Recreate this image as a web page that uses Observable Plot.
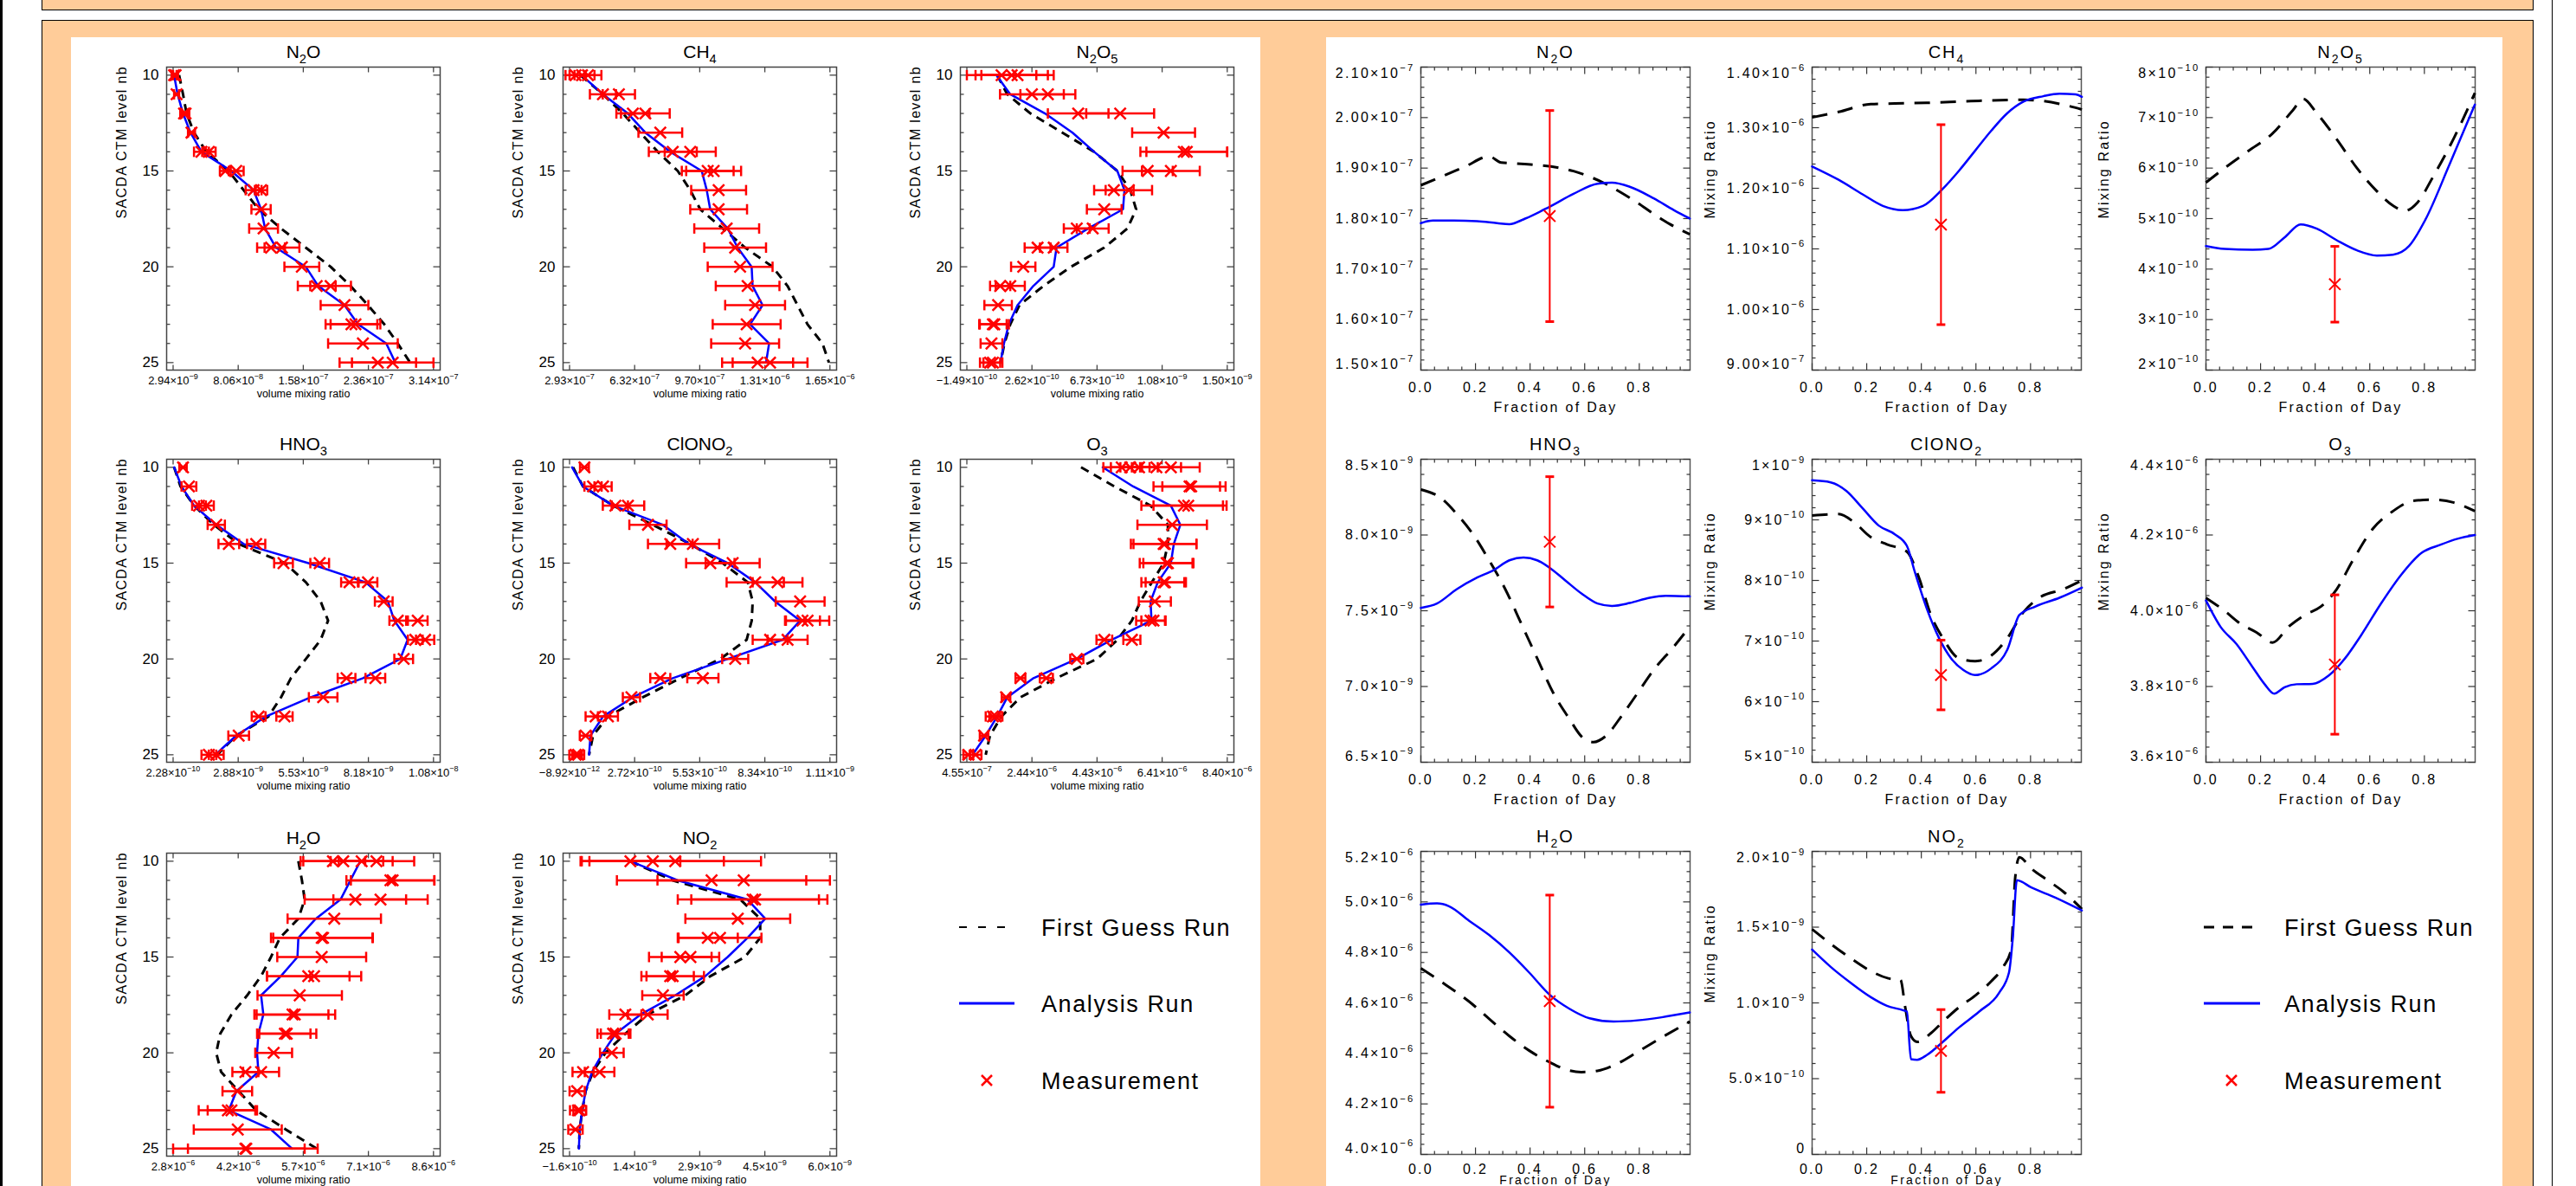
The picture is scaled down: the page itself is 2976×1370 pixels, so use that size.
<!DOCTYPE html>
<html><head><meta charset="utf-8">
<script src="https://cdn.jsdelivr.net/npm/d3@7"></script>
<script src="https://cdn.jsdelivr.net/npm/@observablehq/plot@0.6"></script>
<style>
html,body{margin:0;padding:0;background:#fff;}
#root{position:relative;width:2976px;height:1370px;overflow:hidden;background:#fff;font-family:"Liberation Sans",Arial,Helvetica,sans-serif;}
.abs{position:absolute;}
g[aria-description="ytl"] text,g[aria-description="xtl"] text,g[aria-description="xlab"] text{letter-spacing:2.3px;}
g[aria-description="rtitle"] text{letter-spacing:2px;}
g[aria-description="ylab"] text{letter-spacing:2.2px;}
g[aria-description="ylabel"] text{letter-spacing:1.3px;}
.legend text{font-family:"Liberation Sans",Arial,sans-serif;font-size:27px;letter-spacing:1.6px;fill:#000;}
</style></head>
<body><div id="root"></div>
<script>
// ---------------- LEFT: vertical profiles (SACDA CTM levels 10..25) ----------------
const levels = [10,11,12,13,14,15,16,17,18,19,20,21,22,23,24,25];

// N2O profile, values x1e-9
const n2oProfRange = [2.94, 314];
const n2oProfTickLabels = ["2.94×10^{-9}","8.06×10^{-8}","1.58×10^{-7}","2.36×10^{-7}","3.14×10^{-7}"];
const n2oProfFirstGuess = [10.1,14.8,19.0,27.9,42.7,69.4,87.2,105.0,131.8,161.4,191.1,214.9,235.6,255.2,271.3,286.1];
const n2oProfAnalysis = [4.1,8.3,14.8,23.7,36.8,72.4,99.1,108.0,112.8,125.8,161.4,176.3,207.7,223.8,257.6,268.4];
const n2oProfMeas = [[10,4.1,3.0],[10,5.9,3.0],[11,7.1,3.0],[12,16.0,4.5],[12,17.8,4.5],[13,24.9,4.2],[14,36.8,8.9],[14,45.7,8.0],[15,65.3,6.5],[15,78.3,8.9],[16,99.1,9.5],[16,108.0,7.4],[17,108.0,11.5],[18,111.0,17.2],[19,119.9,16.6],[19,133.0,20.8],[20,156.7,20.8],[21,174.5,22.6],[21,191.1,24.3],[22,207.7,28.5],[23,216.0,30.9],[23,220.8,29.7],[24,229.7,41.6],[25,247.5,45.7],[25,265.3,48.7]];

// CH4 profile, values x1e-7
const ch4ProfRange = [2.93, 16.5];
const ch4ProfTickLabels = ["2.93×10^{-7}","6.32×10^{-7}","9.70×10^{-7}","1.31×10^{-6}","1.65×10^{-6}"];
const ch4ProfFirstGuess = [3.50,4.67,5.71,6.62,7.53,8.57,9.22,9.74,10.91,12.08,13.51,14.29,14.81,15.33,16.11,16.45];
const ch4ProfAnalysis = [3.55,4.67,5.97,6.88,8.18,9.82,10.08,10.26,11.17,11.69,12.42,12.47,12.99,12.34,13.33,13.17];
const ch4ProfMeas = [[10,3.24,0.52],[10,3.58,0.65],[10,3.89,0.70],[11,4.67,0.68],[11,5.50,0.84],[12,6.23,0.86],[12,6.88,1.27],[13,7.66,1.14],[14,8.31,1.25],[14,9.22,1.33],[15,10.13,1.35],[15,10.44,1.43],[16,10.70,1.43],[17,10.70,1.48],[18,11.12,1.69],[19,11.56,1.61],[20,11.82,1.69],[21,12.21,1.66],[22,12.60,1.56],[23,12.16,1.77],[24,12.08,1.77],[25,12.73,1.85],[25,13.38,1.95]];

// N2O5 profile, values x1e-10
const n2o5ProfRange = [-1.49, 15.0];
const n2o5ProfTickLabels = ["−1.49×10^{-10}","2.62×10^{-10}","6.73×10^{-10}","1.08×10^{-9}","1.50×10^{-9}"];
const n2o5ProfFirstGuess = [0.43,1.07,2.54,4.56,6.57,8.04,8.86,9.23,8.68,7.21,5.11,3.36,1.84,1.26,0.89,0.64];
const n2o5ProfAnalysis = [0.38,1.26,3.46,5.20,6.57,8.04,8.49,8.40,6.20,4.19,4.01,2.72,1.72,1.17,0.86,0.64];
const n2o5ProfMeas = [[10,0.71,2.20],[10,1.35,2.29],[10,1.72,2.29],[11,2.63,2.02],[11,3.64,1.74],[12,5.56,1.92],[12,8.22,2.15],[13,10.97,1.99],[14,12.25,2.75],[14,12.44,2.56],[15,9.96,1.59],[15,11.43,1.83],[16,7.82,1.25],[16,8.77,1.47],[17,7.21,1.10],[18,5.47,0.82],[18,6.48,1.01],[19,2.99,0.82],[19,4.01,0.87],[20,2.08,0.77],[21,0.62,0.64],[21,1.26,0.92],[22,0.49,0.87],[23,0.16,0.87],[23,0.25,0.92],[24,0.07,0.69],[25,-0.02,0.64],[25,0.16,0.60]];

// HNO3 profile, values x1e-9
const hno3ProfRange = [0.228, 10.8];
const hno3ProfTickLabels = ["2.28×10^{-10}","2.88×10^{-9}","5.53×10^{-9}","8.18×10^{-9}","1.08×10^{-8}"];
const hno3ProfFirstGuess = [0.27,0.53,1.08,1.88,2.89,4.77,5.62,6.22,6.52,6.22,5.62,5.01,4.61,4.10,2.79,2.02];
const hno3ProfAnalysis = [0.27,0.57,1.08,1.98,3.09,5.72,8.04,8.95,9.21,9.75,9.45,7.94,5.82,4.00,2.79,1.94];
const hno3ProfMeas = [[10,0.63,0.15],[11,0.87,0.30],[12,1.28,0.28],[12,1.58,0.30],[13,1.98,0.35],[14,2.49,0.42],[14,3.60,0.37],[15,4.71,0.38],[15,6.18,0.38],[16,7.39,0.34],[16,8.14,0.38],[17,8.78,0.36],[18,9.35,0.34],[18,10.16,0.40],[19,10.06,0.30],[19,10.46,0.37],[20,9.59,0.38],[21,7.27,0.36],[21,8.44,0.40],[22,6.32,0.58],[23,3.70,0.28],[23,4.75,0.33],[24,2.89,0.42],[25,1.68,0.30],[25,1.98,0.30]];

// ClONO2 profile, values x1e-10
const clono2ProfRange = [-0.0892, 11.1];
const clono2ProfTickLabels = ["−8.92×10^{-12}","2.72×10^{-10}","5.53×10^{-10}","8.34×10^{-10}","1.11×10^{-9}"];
const clono2ProfFirstGuess = [0.06,0.49,1.78,3.49,5.10,6.49,7.57,7.78,7.74,7.52,6.39,4.67,3.06,1.56,0.92,0.75];
const clono2ProfAnalysis = [0.02,0.49,1.78,3.92,5.03,6.71,7.89,8.74,9.82,9.07,6.71,4.35,2.63,1.35,0.81,0.75];
const clono2ProfMeas = [[10,0.55,0.19],[11,0.92,0.37],[11,1.35,0.37],[12,1.88,0.54],[12,2.42,0.70],[13,3.28,0.80],[14,4.24,0.96],[14,5.21,1.13],[15,5.96,1.04],[15,6.92,1.16],[16,7.89,1.23],[16,8.85,1.07],[17,9.82,1.05],[18,9.92,0.75],[18,10.14,0.93],[19,8.53,0.75],[19,9.28,0.86],[20,7.03,0.56],[21,3.81,0.43],[21,5.64,0.67],[22,2.57,0.37],[23,1.03,0.43],[23,1.56,0.43],[24,0.60,0.25],[25,0.17,0.27],[25,0.28,0.26]];

// O3 profile, values x1e-7
const o3ProfRange = [4.55, 84.0];
const o3ProfTickLabels = ["4.55×10^{-7}","2.44×10^{-6}","4.43×10^{-6}","6.41×10^{-6}","8.40×10^{-6}"];
const o3ProfFirstGuess = [39.4,49.6,60.6,65.9,65.9,64.6,61.0,57.5,54.9,50.5,44.3,31.9,20.9,15.1,11.6,10.3];
const o3ProfAnalysis = [46.0,55.3,66.8,69.7,67.7,66.8,62.8,60.6,60.9,48.7,38.1,24.9,16.9,13.8,10.3,6.3];
const o3ProfMeas = [[10,51.8,5.6],[10,54.4,5.9],[10,57.1,5.7],[10,62.4,7.5],[10,66.8,8.8],[11,72.5,11.0],[11,73.0,8.8],[12,70.8,13.0],[12,72.1,10.6],[13,67.2,10.6],[14,64.6,10.0],[14,65.0,9.6],[15,65.5,8.2],[15,65.9,7.5],[16,64.6,6.8],[16,65.0,5.9],[17,61.9,4.9],[18,60.6,4.4],[18,61.5,3.7],[19,46.5,2.4],[19,54.9,2.6],[20,38.1,2.0],[21,20.9,1.5],[21,28.8,2.0],[22,16.5,1.3],[23,12.5,2.2],[23,13.4,2.0],[24,9.8,1.3],[25,5.0,1.5],[25,7.2,1.8]];

// H2O profile, values x1e-6
const h2oProfRange = [2.8, 8.6];
const h2oProfTickLabels = ["2.8×10^{-6}","4.2×10^{-6}","5.7×10^{-6}","7.1×10^{-6}","8.6×10^{-6}"];
const h2oProfFirstGuess = [5.59,5.67,5.73,5.59,5.18,4.98,4.76,4.45,4.10,3.85,3.76,3.87,4.26,4.65,5.31,6.00];
const h2oProfAnalysis = [6.97,6.75,6.53,5.98,5.59,5.57,5.20,4.76,4.81,4.70,4.67,4.70,4.21,4.04,4.98,5.45];
const h2oProfMeas = [[10,6.36,0.72],[10,6.59,0.89],[10,7.00,0.69],[10,7.33,0.84],[11,7.64,0.98],[11,7.69,0.93],[12,6.86,1.13],[12,7.42,1.05],[13,6.39,1.04],[14,6.11,1.13],[14,6.14,1.11],[15,6.11,0.99],[16,5.81,0.92],[16,5.94,1.05],[17,5.62,0.94],[18,5.46,0.80],[18,5.51,0.90],[19,5.29,0.57],[19,5.33,0.66],[20,5.04,0.41],[21,4.41,0.29],[21,4.76,0.40],[22,4.23,0.33],[23,4.02,0.65],[23,4.10,0.53],[24,4.24,0.98],[25,4.41,1.61],[25,4.43,1.30]];

// NO2 profile, values x1e-9
const no2ProfRange = [-0.16, 6.0];
const no2ProfTickLabels = ["−1.6×10^{-10}","1.4×10^{-9}","2.9×10^{-9}","4.5×10^{-9}","6.0×10^{-9}"];
const no2ProfFirstGuess = [1.28,2.28,3.88,4.35,4.35,3.99,3.17,2.58,1.69,1.16,0.69,0.39,0.22,0.14,0.08,0.06];
const no2ProfAnalysis = [1.28,2.40,4.05,4.47,4.05,3.58,3.05,2.34,1.52,0.93,0.63,0.37,0.22,0.14,0.08,0.06];
const no2ProfMeas = [[10,1.28,1.18],[10,1.81,1.68],[10,2.34,2.03],[11,3.20,2.24],[11,3.96,2.04],[12,4.17,1.77],[12,4.23,1.51],[13,3.82,1.24],[14,3.11,0.71],[14,3.40,0.98],[15,2.46,0.74],[15,2.70,0.68],[16,2.22,0.56],[16,2.28,0.74],[17,2.05,0.49],[18,1.16,0.38],[18,1.69,0.47],[19,0.87,0.37],[19,0.93,0.35],[20,0.84,0.28],[21,0.16,0.25],[21,0.55,0.35],[22,0.02,0.18],[23,0.04,0.19],[23,0.08,0.15],[24,-0.02,0.17]];

// ---------------- RIGHT: diurnal cycle at the measurement level ----------------
// [fraction of day, mixing ratio]; measurement = [fraction, value, error]
const n2oDayYTicks = [1.5,1.6,1.7,1.8,1.9,2.0,2.1]; // x1e-7
const n2oDayYLabels = ["1.50×10^{-7}","1.60×10^{-7}","1.70×10^{-7}","1.80×10^{-7}","1.90×10^{-7}","2.00×10^{-7}","2.10×10^{-7}"];
const n2oDayFirstGuess = [[0,1.866],[0.088,1.886],[0.162,1.903],[0.25,1.923],[0.294,1.911],[0.353,1.909],[0.426,1.906],[0.5,1.901],[0.559,1.894],[0.618,1.883],[0.676,1.869],[0.735,1.851],[0.794,1.831],[0.853,1.809],[0.912,1.789],[0.985,1.769]];
const n2oDayAnalysis = [[0,1.791],[0.044,1.796],[0.12,1.796],[0.206,1.795],[0.279,1.791],[0.324,1.789],[0.382,1.800],[0.47,1.823],[0.559,1.849],[0.647,1.869],[0.7,1.871],[0.765,1.863],[0.853,1.840],[0.926,1.817],[0.985,1.800]];
const n2oDayMeas = [0.472, 1.805, 0.209];

const ch4DayYTicks = [0.9,1.0,1.1,1.2,1.3,1.4]; // x1e-6
const ch4DayYLabels = ["9.00×10^{-7}","1.00×10^{-6}","1.10×10^{-6}","1.20×10^{-6}","1.30×10^{-6}","1.40×10^{-6}"];
const ch4DayFirstGuess = [[0,1.317],[0.097,1.326],[0.215,1.339],[0.303,1.340],[0.42,1.341],[0.538,1.343],[0.656,1.345],[0.774,1.346],[0.847,1.344],[0.92,1.338],[0.988,1.330]];
const ch4DayAnalysis = [[0,1.236],[0.097,1.214],[0.185,1.190],[0.259,1.171],[0.332,1.164],[0.406,1.171],[0.476,1.198],[0.538,1.229],[0.597,1.262],[0.656,1.295],[0.715,1.324],[0.774,1.343],[0.847,1.352],[0.906,1.356],[0.965,1.355],[0.988,1.351]];
const ch4DayMeas = [0.472, 1.14, 0.165];

const n2o5DayYTicks = [2,3,4,5,6,7,8]; // x1e-10
const n2o5DayYLabels = ["2×10^{-10}","3×10^{-10}","4×10^{-10}","5×10^{-10}","6×10^{-10}","7×10^{-10}","8×10^{-10}"];
const n2o5DayFirstGuess = [[0,5.714],[0.068,6.0],[0.156,6.343],[0.244,6.686],[0.318,7.143],[0.356,7.371],[0.406,7.086],[0.479,6.571],[0.553,6.0],[0.626,5.543],[0.685,5.257],[0.729,5.154],[0.774,5.314],[0.832,5.829],[0.906,6.571],[0.985,7.486]];
const n2o5DayAnalysis = [[0,4.457],[0.068,4.40],[0.171,4.383],[0.229,4.40],[0.288,4.629],[0.347,4.886],[0.406,4.80],[0.479,4.571],[0.553,4.371],[0.626,4.269],[0.685,4.286],[0.744,4.457],[0.803,4.971],[0.891,6.057],[0.985,7.257]];
const n2o5DayMeas = [0.472, 3.70, 0.75];

const hno3DayYTicks = [6.5,7.0,7.5,8.0,8.5]; // x1e-9
const hno3DayYLabels = ["6.5×10^{-9}","7.0×10^{-9}","7.5×10^{-9}","8.0×10^{-9}","8.5×10^{-9}"];
const hno3DayFirstGuess = [[0,8.30],[0.074,8.243],[0.132,8.138],[0.191,8.005],[0.25,7.833],[0.309,7.643],[0.368,7.414],[0.426,7.186],[0.485,6.957],[0.544,6.786],[0.588,6.671],[0.632,6.633],[0.676,6.671],[0.735,6.805],[0.794,6.957],[0.853,7.110],[0.926,7.262],[0.985,7.395]];
const hno3DayAnalysis = [[0,7.519],[0.059,7.548],[0.132,7.643],[0.206,7.719],[0.265,7.767],[0.324,7.833],[0.376,7.852],[0.426,7.833],[0.47,7.786],[0.529,7.700],[0.588,7.614],[0.647,7.548],[0.7,7.532],[0.765,7.551],[0.838,7.586],[0.897,7.599],[0.985,7.595]];
const hno3DayMeas = [0.472, 7.955, 0.43];

const clono2DayYTicks = [5,6,7,8,9,10]; // x1e-10
const clono2DayYLabels = ["5×10^{-10}","6×10^{-10}","7×10^{-10}","8×10^{-10}","9×10^{-10}","1×10^{-9}"];
const clono2DayFirstGuess = [[0,9.071],[0.097,9.095],[0.156,8.952],[0.215,8.714],[0.274,8.595],[0.347,8.476],[0.391,8.048],[0.435,7.429],[0.479,7.048],[0.538,6.714],[0.597,6.667],[0.656,6.762],[0.715,7.048],[0.774,7.476],[0.832,7.714],[0.921,7.857],[0.988,8.0]];
const clono2DayAnalysis = [[0,9.652],[0.068,9.619],[0.126,9.476],[0.185,9.19],[0.244,8.905],[0.303,8.762],[0.347,8.571],[0.376,8.143],[0.421,7.524],[0.465,7.048],[0.509,6.714],[0.553,6.524],[0.597,6.438],[0.656,6.548],[0.715,6.857],[0.759,7.429],[0.818,7.571],[0.906,7.714],[0.988,7.881]];
const clono2DayMeas = [0.472, 6.44, 0.575];

const o3DayYTicks = [3.6,3.8,4.0,4.2,4.4]; // x1e-6
const o3DayYLabels = ["3.6×10^{-6}","3.8×10^{-6}","4.0×10^{-6}","4.2×10^{-6}","4.4×10^{-6}"];
const o3DayFirstGuess = [[0,4.034],[0.068,4.0],[0.126,3.966],[0.185,3.943],[0.244,3.916],[0.303,3.958],[0.362,3.989],[0.421,4.011],[0.479,4.057],[0.538,4.133],[0.612,4.217],[0.685,4.263],[0.759,4.290],[0.832,4.293],[0.906,4.286],[0.985,4.263]];
const o3DayAnalysis = [[0,4.027],[0.053,3.958],[0.112,3.912],[0.171,3.851],[0.215,3.806],[0.25,3.781],[0.288,3.798],[0.332,3.806],[0.391,3.807],[0.45,3.829],[0.509,3.874],[0.568,3.935],[0.641,4.019],[0.715,4.095],[0.788,4.152],[0.862,4.175],[0.921,4.190],[0.985,4.200]];
const o3DayMeas = [0.472, 3.858, 0.184];

const h2oDayYTicks = [4.0,4.2,4.4,4.6,4.8,5.0,5.2]; // x1e-6
const h2oDayYLabels = ["4.0×10^{-6}","4.2×10^{-6}","4.4×10^{-6}","4.6×10^{-6}","4.8×10^{-6}","5.0×10^{-6}","5.2×10^{-6}"];
const h2oDayFirstGuess = [[0,4.737],[0.088,4.674],[0.176,4.606],[0.25,4.537],[0.324,4.469],[0.397,4.411],[0.47,4.366],[0.529,4.337],[0.588,4.326],[0.647,4.331],[0.721,4.360],[0.794,4.406],[0.882,4.463],[0.985,4.526]];
const h2oDayAnalysis = [[0,4.989],[0.059,4.994],[0.103,4.983],[0.176,4.926],[0.25,4.869],[0.324,4.800],[0.397,4.720],[0.47,4.634],[0.544,4.577],[0.618,4.539],[0.706,4.526],[0.794,4.531],[0.882,4.543],[0.985,4.562]];
const h2oDayMeas = [0.472, 4.607, 0.42];

const no2DayYTicks = [0,0.5,1.0,1.5,2.0]; // x1e-9
const no2DayYLabels = ["0","5.0×10^{-10}","1.0×10^{-9}","1.5×10^{-9}","2.0×10^{-9}"];
const no2DayFirstGuess = [[0,1.486],[0.068,1.390],[0.141,1.295],[0.215,1.210],[0.279,1.162],[0.324,1.152],[0.341,0.971],[0.362,0.781],[0.385,0.743],[0.435,0.800],[0.479,0.876],[0.538,0.971],[0.597,1.048],[0.656,1.143],[0.7,1.238],[0.729,1.352],[0.744,1.829],[0.759,1.962],[0.803,1.886],[0.862,1.810],[0.921,1.733],[0.988,1.619]];
const no2DayAnalysis = [[0,1.352],[0.068,1.238],[0.141,1.133],[0.215,1.038],[0.274,0.981],[0.332,0.952],[0.347,0.943],[0.362,0.629],[0.385,0.625],[0.421,0.657],[0.479,0.743],[0.538,0.838],[0.612,0.943],[0.685,1.067],[0.721,1.200],[0.735,1.429],[0.75,1.810],[0.803,1.762],[0.891,1.695],[0.988,1.610]];
const no2DayMeas = [0.472, 0.683, 0.273];

const legendLabels = ["First Guess Run","Analysis Run","Measurement"];

// ---------------- helpers ----------------
const FONT = '"Liberation Sans", Arial, Helvetica, sans-serif';
const RED = "#ff0000", BLUE = "#0000ff";
const seg = (x1,y1,x2,y2) => ({draw(c){c.moveTo(x1,y1);c.lineTo(x2,y2);}});
const vCap = L => seg(0,-L,0,L);
const hCap = L => seg(-L,0,L,0);

function richify(root) {
  const NS = "http://www.w3.org/2000/svg";
  root.querySelectorAll("text").forEach(t => {
    const s = t.textContent;
    if (!/[_^]\{/.test(s)) return;
    const fs = parseFloat(getComputedStyle(t).fontSize) || 12;
    t.textContent = "";
    let offset = 0;
    const re = /([_^])\{([^}]*)\}|([^_^]+)/g;
    let m;
    while ((m = re.exec(s))) {
      const sp = document.createElementNS(NS, "tspan");
      let target;
      if (m[3] !== undefined) { sp.textContent = m[3]; target = 0; }
      else {
        sp.textContent = m[2].replace(/-/g, "\u2212");
        target = m[1] === "_" ? 0.28 * fs : -0.45 * fs;
        sp.setAttribute("font-size", (0.7 * fs).toFixed(1));
      }
      const d = target - offset;
      if (d) sp.setAttribute("dy", d.toFixed(2));
      offset = target;
      t.appendChild(sp);
    }
  });
}

const root = document.getElementById("root");
function box(l, t, w, h, css) {
  const d = document.createElement("div");
  d.className = "abs";
  Object.assign(d.style, {left: l + "px", top: t + "px", width: w + "px", height: h + "px", boxSizing: "border-box"}, css);
  root.appendChild(d);
}
function place(svg, left, top, cls) {
  const div = document.createElement("div");
  div.className = "abs " + cls;
  div.style.left = left + "px";
  div.style.top = top + "px";
  div.appendChild(svg);
  root.appendChild(div);
  richify(div);
}

// background frames
box(0, 0, 3, 1370, {background: "#000"});
box(48, 0, 2879, 12, {background: "#ffcc99", borderLeft: "1px solid #000", borderRight: "1px solid #000", borderBottom: "1px solid #000"});
box(48, 23, 2879, 1400, {background: "#ffcc99", border: "1px solid #000"});
box(82, 43, 1374, 1400, {background: "#fff"});
box(1532, 43, 1359, 1400, {background: "#fff"});
box(2948, 0, 1, 1370, {background: "#000"});

// ---------------- profile plot ----------------
const LW = 316, LH = 350, Lml = 80, Lmr = 14, Lmt = 42, Lmb = 48;
function makeProfile(p) {
  const [t0, t4] = p.range;
  const span = t4 - t0;
  const ticks = d3.range(5).map(i => t0 + i * span / 4);
  const xDom = [t0 - 0.0249 * span, t4 + 0.0256 * span];
  const yDom = [9.58, 25.39];
  const majors = [10, 15, 20, 25];
  const minors = levels.filter(l => !majors.includes(l));
  const ends = p.meas.flatMap(([l, v, e]) => [[l, v - e], [l, v + e]]);
  const tk = {stroke: "#444", fill: "none", strokeWidth: 1.3};
  return Plot.plot({
    width: LW + Lml + Lmr, height: LH + Lmt + Lmb,
    marginLeft: Lml, marginRight: Lmr, marginTop: Lmt, marginBottom: Lmb,
    x: {domain: xDom, axis: null},
    y: {domain: yDom, reverse: true, axis: null},
    style: {background: "transparent", maxWidth: "none", overflow: "visible", fontFamily: FONT, color: "#000"},
    marks: [
      Plot.frame({stroke: "#444", strokeWidth: 1.5}),
      Plot.dot(ticks, {x: d => d, frameAnchor: "bottom", symbol: seg(0,0,0,-6), ...tk}),
      Plot.dot(ticks, {x: d => d, frameAnchor: "top", symbol: seg(0,0,0,6), ...tk}),
      Plot.dot(majors, {y: d => d, frameAnchor: "left", symbol: seg(0,0,8,0), ...tk}),
      Plot.dot(majors, {y: d => d, frameAnchor: "right", symbol: seg(0,0,-8,0), ...tk}),
      Plot.dot(minors, {y: d => d, frameAnchor: "left", symbol: seg(0,0,4,0), ...tk}),
      Plot.dot(minors, {y: d => d, frameAnchor: "right", symbol: seg(0,0,-4,0), ...tk}),
      Plot.line(levels, {x: (d, i) => p.fg[i], y: d => d, stroke: "#000", strokeWidth: 3, strokeDasharray: "10,7", strokeLinecap: "butt"}),
      Plot.line(levels, {x: (d, i) => p.an[i], y: d => d, stroke: BLUE, strokeWidth: 2.5}),
      Plot.ruleY(p.meas, {y: d => d[0], x1: d => d[1] - d[2], x2: d => d[1] + d[2], stroke: RED, strokeWidth: 2.5}),
      Plot.dot(ends, {x: d => d[1], y: d => d[0], symbol: vCap(6), stroke: RED, fill: "none", strokeWidth: 2.5}),
      Plot.dot(p.meas, {x: d => d[1], y: d => d[0], symbol: "times", r: 6, stroke: RED, fill: "none", strokeWidth: 2.5}),
      Plot.text(majors, {y: d => d, frameAnchor: "left", dx: -9, textAnchor: "end", lineAnchor: "middle", fontSize: 17, text: d => String(d)}),
      Plot.text(ticks, {x: d => d, frameAnchor: "bottom", dy: 12, lineAnchor: "middle", fontSize: 13, text: (d, i) => p.labels[i]}),
      Plot.text(["volume mixing ratio"], {frameAnchor: "bottom", dy: 27, lineAnchor: "middle", fontSize: 12.5, text: d => d}),
      Plot.text([p.title], {frameAnchor: "top", dy: -17, lineAnchor: "middle", fontSize: 21, text: d => d}),
      Plot.text(["SACDA CTM level nb"], {frameAnchor: "left", dx: -52, rotate: -90, lineAnchor: "middle", fontSize: 16, text: d => d, ariaDescription: "ylabel"})
    ]
  });
}

const profilePanels = [
  {title: "N_{2}O", range: n2oProfRange, labels: n2oProfTickLabels, fg: n2oProfFirstGuess, an: n2oProfAnalysis, meas: n2oProfMeas},
  {title: "CH_{4}", range: ch4ProfRange, labels: ch4ProfTickLabels, fg: ch4ProfFirstGuess, an: ch4ProfAnalysis, meas: ch4ProfMeas},
  {title: "N_{2}O_{5}", range: n2o5ProfRange, labels: n2o5ProfTickLabels, fg: n2o5ProfFirstGuess, an: n2o5ProfAnalysis, meas: n2o5ProfMeas},
  {title: "HNO_{3}", range: hno3ProfRange, labels: hno3ProfTickLabels, fg: hno3ProfFirstGuess, an: hno3ProfAnalysis, meas: hno3ProfMeas},
  {title: "ClONO_{2}", range: clono2ProfRange, labels: clono2ProfTickLabels, fg: clono2ProfFirstGuess, an: clono2ProfAnalysis, meas: clono2ProfMeas},
  {title: "O_{3}", range: o3ProfRange, labels: o3ProfTickLabels, fg: o3ProfFirstGuess, an: o3ProfAnalysis, meas: o3ProfMeas},
  {title: "H_{2}O", range: h2oProfRange, labels: h2oProfTickLabels, fg: h2oProfFirstGuess, an: h2oProfAnalysis, meas: h2oProfMeas},
  {title: "NO_{2}", range: no2ProfRange, labels: no2ProfTickLabels, fg: no2ProfFirstGuess, an: no2ProfAnalysis, meas: no2ProfMeas}
];
const leftCols = [192, 650, 1109], leftRows = [77, 530, 985];
profilePanels.forEach((p, k) => {
  const c = k % 3, r = Math.floor(k / 3);
  place(makeProfile(p), leftCols[c] - Lml, leftRows[r] - Lmt, "lplot");
});

// ---------------- diurnal plot ----------------
const RW = 311, RH = 350, Rml = 128, Rmr = 14, Rmt = 42, Rmb = 60;
function makeDiurnal(p) {
  const yt = p.yTicks, n = yt.length;
  const yDom = [yt[0], yt[n - 1]];
  const step = (yt[1] - yt[0]) / 5;
  const yMinor = d3.range(1, (n - 1) * 5).filter(k => k % 5).map(k => yt[0] + k * step);
  const xMajor = [0, 0.2, 0.4, 0.6, 0.8];
  const xMinor = d3.range(1, 20).filter(k => k % 4).map(k => k * 0.05);
  const [mf, mv, me] = p.meas;
  const tk = {stroke: "#333", fill: "none", strokeWidth: 1.2};
  const idx = yt.map((d, i) => i);
  const tickDy = p.lastRow ? 17 : 20;
  const labDy = p.lastRow ? 30 : 43;
  const labFs = p.lastRow ? 14 : 16;
  const marks = [
    Plot.frame({stroke: "#555", strokeWidth: 1.5}),
    Plot.dot(xMajor, {x: d => d, frameAnchor: "bottom", symbol: seg(0,0,0,-8), ...tk}),
    Plot.dot(xMajor, {x: d => d, frameAnchor: "top", symbol: seg(0,0,0,8), ...tk}),
    Plot.dot(xMinor, {x: d => d, frameAnchor: "bottom", symbol: seg(0,0,0,-4), ...tk}),
    Plot.dot(xMinor, {x: d => d, frameAnchor: "top", symbol: seg(0,0,0,4), ...tk}),
    Plot.dot(yt, {y: d => d, frameAnchor: "left", symbol: seg(0,0,8,0), ...tk}),
    Plot.dot(yt, {y: d => d, frameAnchor: "right", symbol: seg(0,0,-8,0), ...tk}),
    Plot.dot(yMinor, {y: d => d, frameAnchor: "left", symbol: seg(0,0,4,0), ...tk}),
    Plot.dot(yMinor, {y: d => d, frameAnchor: "right", symbol: seg(0,0,-4,0), ...tk}),
    Plot.line(p.fg, {x: d => d[0], y: d => d[1], stroke: "#000", strokeWidth: 3, strokeDasharray: "18,12", strokeLinecap: "butt", curve: "monotone-x"}),
    Plot.line(p.an, {x: d => d[0], y: d => d[1], stroke: BLUE, strokeWidth: 2.5, curve: "monotone-x"}),
    Plot.ruleX([p.meas], {x: d => d[0], y1: d => d[1] - d[2], y2: d => d[1] + d[2], stroke: RED, strokeWidth: 2}),
    Plot.dot([[mf, mv - me], [mf, mv + me]], {x: d => d[0], y: d => d[1], symbol: hCap(5), stroke: RED, fill: "none", strokeWidth: 3}),
    Plot.dot([p.meas], {x: d => d[0], y: d => d[1], symbol: "times", r: 6, stroke: RED, fill: "none", strokeWidth: 2}),
    Plot.text(idx.slice(1, n - 1), {y: i => yt[i], frameAnchor: "left", dx: -7, textAnchor: "end", lineAnchor: "middle", fontSize: 16, text: i => p.yLabels[i], ariaDescription: "ytl"}),
    Plot.text([0], {y: i => yt[i], frameAnchor: "left", dx: -7, dy: -7, textAnchor: "end", lineAnchor: "middle", fontSize: 16, text: i => p.yLabels[i], ariaDescription: "ytl"}),
    Plot.text([n - 1], {y: i => yt[i], frameAnchor: "left", dx: -7, dy: 7, textAnchor: "end", lineAnchor: "middle", fontSize: 16, text: i => p.yLabels[i], ariaDescription: "ytl"}),
    Plot.text(xMajor, {x: d => d, frameAnchor: "bottom", dy: tickDy, lineAnchor: "middle", fontSize: 16, text: d => d.toFixed(1), ariaDescription: "xtl"}),
    Plot.text([p.title], {frameAnchor: "top", dy: -17, lineAnchor: "middle", fontSize: 20, text: d => d, ariaDescription: "rtitle"}),
    Plot.text(["Fraction of Day"], {frameAnchor: "bottom", dy: labDy, lineAnchor: "middle", fontSize: labFs, text: d => d, ariaDescription: "xlab"})
  ];
  if (p.showY) marks.push(Plot.text(["Mixing Ratio"], {frameAnchor: "left", dx: -118, rotate: -90, lineAnchor: "middle", fontSize: 16, text: d => d, ariaDescription: "ylab"}));
  return Plot.plot({
    width: RW + Rml + Rmr, height: RH + Rmt + Rmb,
    marginLeft: Rml, marginRight: Rmr, marginTop: Rmt, marginBottom: Rmb,
    x: {domain: [0, 0.986], axis: null},
    y: {domain: yDom, axis: null},
    style: {background: "transparent", maxWidth: "none", overflow: "visible", fontFamily: FONT, color: "#000"},
    marks
  });
}

const diurnalPanels = [
  {title: "N_{2}O", yTicks: n2oDayYTicks, yLabels: n2oDayYLabels, fg: n2oDayFirstGuess, an: n2oDayAnalysis, meas: n2oDayMeas, showY: false},
  {title: "CH_{4}", yTicks: ch4DayYTicks, yLabels: ch4DayYLabels, fg: ch4DayFirstGuess, an: ch4DayAnalysis, meas: ch4DayMeas, showY: true},
  {title: "N_{2}O_{5}", yTicks: n2o5DayYTicks, yLabels: n2o5DayYLabels, fg: n2o5DayFirstGuess, an: n2o5DayAnalysis, meas: n2o5DayMeas, showY: true},
  {title: "HNO_{3}", yTicks: hno3DayYTicks, yLabels: hno3DayYLabels, fg: hno3DayFirstGuess, an: hno3DayAnalysis, meas: hno3DayMeas, showY: false},
  {title: "ClONO_{2}", yTicks: clono2DayYTicks, yLabels: clono2DayYLabels, fg: clono2DayFirstGuess, an: clono2DayAnalysis, meas: clono2DayMeas, showY: true},
  {title: "O_{3}", yTicks: o3DayYTicks, yLabels: o3DayYLabels, fg: o3DayFirstGuess, an: o3DayAnalysis, meas: o3DayMeas, showY: true},
  {title: "H_{2}O", yTicks: h2oDayYTicks, yLabels: h2oDayYLabels, fg: h2oDayFirstGuess, an: h2oDayAnalysis, meas: h2oDayMeas, showY: false, lastRow: true},
  {title: "NO_{2}", yTicks: no2DayYTicks, yLabels: no2DayYLabels, fg: no2DayFirstGuess, an: no2DayAnalysis, meas: no2DayMeas, showY: true, lastRow: true}
];
const rightCols = [1641, 2093, 2548], rightRows = [77, 530, 983];
diurnalPanels.forEach((p, k) => {
  const c = k % 3, r = Math.floor(k / 3);
  place(makeDiurnal(p), rightCols[c] - Rml, rightRows[r] - Rmt, "rplot");
});

// ---------------- legends ----------------
function legend(left, top, o) {
  const d = document.createElement("div");
  d.className = "abs legend";
  d.style.left = left + "px"; d.style.top = top + "px";
  const x0 = o.x0, x1 = o.x1, cx = o.cx, tx = o.tx;
  d.innerHTML = `<svg width="380" height="260" xmlns="http://www.w3.org/2000/svg">
    <line x1="${x0}" x2="${x0 + o.dashLen}" y1="51" y2="51" stroke="#000" stroke-width="${o.dashW}" stroke-dasharray="${o.dash}"/>
    <text x="${tx}" y="61">${legendLabels[0]}</text>
    <line x1="${x0}" x2="${x1}" y1="139" y2="139" stroke="${BLUE}" stroke-width="2.8"/>
    <text x="${tx}" y="149">${legendLabels[1]}</text>
    <path d="M${cx - 6},${222} L${cx + 6},${234} M${cx + 6},${222} L${cx - 6},${234}" stroke="${RED}" stroke-width="2.5" fill="none"/>
    <text x="${tx}" y="238">${legendLabels[2]}</text>
  </svg>`;
  root.appendChild(d);
}
legend(1090, 1020, {x0: 18, x1: 82, dashLen: 55, dash: "9,13", dashW: 1.8, cx: 50, tx: 113});
legend(2530, 1020, {x0: 16, x1: 81, dashLen: 56, dash: "12,10", dashW: 3, cx: 48, tx: 109});
</script>
</body></html>
